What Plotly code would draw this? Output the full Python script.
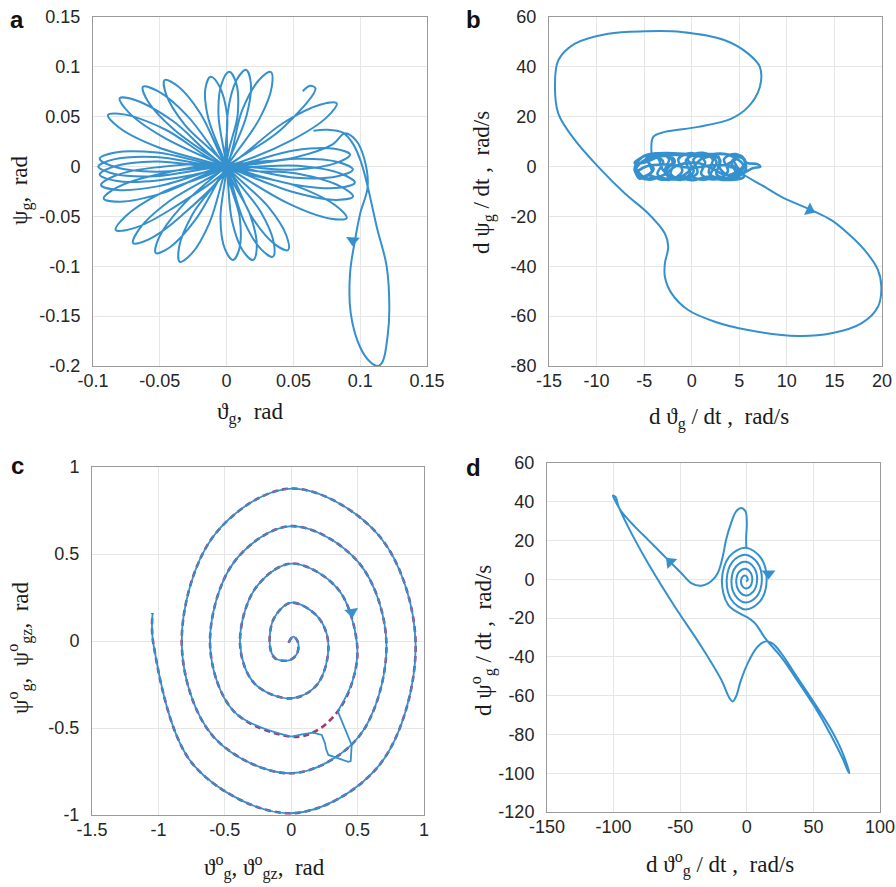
import plotly.graph_objects as go

W, H = 896, 887
BLUE = "#3590CE"
RED = "#A5356A"

# ---------------- panel a : psi_g vs theta_g ----------------
A_PATH = [
    (0.057, 0.0755), (0.0625, 0.081), (0.0665, 0.0785), (0.0406, 0.037), (0, 0),
    (-0.0348, -0.0416), (-0.0508, -0.0717), (-0.053, -0.0867), (-0.0424, -0.0809), (-0.0236, -0.0538), (0, 0),
    (0.0248, 0.0483), (0.0339, 0.0806), (0.033, 0.095), (0.0241, 0.0866), (0.0116, 0.0563), (0, 0),
    (-0.0257, -0.0483), (-0.0356, -0.0809), (-0.035, -0.0955), (-0.026, -0.0871), (-0.0129, -0.0567), (0, 0),
    (0.015, 0.0515), (0.0181, 0.084), (0.0145, 0.097), (0.0075, 0.0868), (0.001, 0.0553), (0, 0),
    (-0.0046, -0.052), (-0.0012, -0.0829), (0.0048, -0.0937), (0.0096, -0.0821), (0.0098, -0.051), (0, 0),
    (0.0083, 0.0521), (0.0072, 0.0835), (0.002, 0.095), (-0.0036, 0.0837), (-0.0061, 0.0525), (0, 0),
    (0.004, -0.0541), (0.0122, -0.0844), (0.0198, -0.0937), (0.0226, -0.0806), (0.0178, -0.0489), (0, 0),
    (0.0004, 0.0511), (-0.0053, 0.0804), (-0.012, 0.090), (-0.0159, 0.078), (-0.0136, 0.0479), (0, 0),
    (0.0127, -0.054), (0.0257, -0.0828), (0.0347, -0.0904), (0.0353, -0.0764), (0.0255, -0.0454), (0, 0),
    (-0.0196, 0.0533), (-0.0364, 0.0806), (-0.0464, 0.0868), (-0.0452, 0.0722), (-0.0314, 0.0421), (0, 0),
    (0.0195, -0.0518), (0.0362, -0.078), (0.046, -0.0837), (0.0448, -0.0694), (0.0311, -0.0402), (0, 0),
    (-0.0294, 0.0509), (-0.0514, 0.0756), (-0.0626, 0.080), (-0.0588, 0.0652), (-0.0394, 0.0371), (0, 0),
    (0.0465, -0.0372), (0.0769, -0.052), (0.0899, -0.0516), (0.0813, -0.0388), (0.0523, -0.0196), (0, 0),
    (-0.0402, 0.0457), (-0.0675, 0.0663), (-0.080, 0.0685), (-0.0733, 0.0543), (-0.0478, 0.0297), (0, 0),
    (0.0504, -0.0258), (0.082, -0.0334), (0.0946, -0.030), (0.0844, -0.0194), (0.0536, -0.0072), (0, 0),
    (-0.0459, 0.0372), (-0.0759, 0.0521), (-0.0888, 0.0517), (-0.0803, 0.0389), (-0.0517, 0.0196), (0, 0),
    (0.052, -0.0184), (0.0839, -0.0213), (0.096, -0.016), (0.0851, -0.0069), (0.0536, 0.0008), (0, 0),
    (-0.0518, 0.014), (-0.0832, 0.0142), (-0.095, 0.008), (-0.084, -0.0002), (-0.0528, -0.0052), (0, 0),
    (0.0518, -0.0113), (0.0831, -0.0098), (0.0945, -0.003), (0.0833, 0.0046), (0.0522, 0.0079), (0, 0),
    (-0.0528, 0.0096), (-0.0845, 0.0072), (-0.096, 0.0), (-0.0845, -0.0072), (-0.0528, -0.0096), (0, 0),
    (0.0514, -0.003), (0.0818, 0.0034), (0.0924, 0.012), (0.0808, 0.0178), (0.0502, 0.0162), (0, 0),
    (-0.0528, 0.0052), (-0.084, 0.0002), (-0.095, -0.008), (-0.0832, -0.0142), (-0.0518, -0.014), (0, 0),
    (0.0488, 0.0266), (0.0751, 0.0496), (0.0824, 0.0634), (0.0699, 0.062), (0.0418, 0.0432), (0, 0),
    (-0.0492, -0.0267), (-0.0756, -0.0498), (-0.083, -0.0636), (-0.0704, -0.0622), (-0.0422, -0.0433), (0, 0),
    (-0.0527, -0.0008), (-0.0835, -0.0092), (-0.094, -0.0185), (-0.0819, -0.0234), (-0.0507, -0.0196), (0, 0),
    (-0.043, -0.0348), (-0.065, -0.062), (-0.070, -0.0767), (-0.0582, -0.073), (-0.034, -0.0496), (0, 0),
    (-0.0524, -0.0083), (-0.0823, -0.0212), (-0.092, -0.032), (-0.0797, -0.0352), (-0.0488, -0.0269), (0, 0),
    (0.0506, 0.009), (0.0794, 0.0223), (0.0886, 0.0333),
    (0.097, 0.026), (0.103, 0.008), (0.1056, -0.02), (0.1, -0.047), (0.096, -0.0746),
    (0.0924, -0.107), (0.0929, -0.147), (0.0998, -0.1807), (0.1075, -0.196),
    (0.1135, -0.2), (0.117, -0.195), (0.1205, -0.17), (0.1218, -0.144),
    (0.1198, -0.1), (0.1123, -0.06), (0.1056, -0.02), (0.101, 0.003),
    (0.095, 0.022), (0.087, 0.034), (0.075, 0.037), (0.065, 0.036),
]
A_ARROWS = [(0.0945, -0.074, 183)]
A_XTICKS = [-0.1, -0.05, 0, 0.05, 0.1, 0.15]
A_XTEXT = ["-0.1", "-0.05", "0", "0.05", "0.1", "0.15"]
A_YTICKS = [-0.2, -0.15, -0.1, -0.05, 0, 0.05, 0.1, 0.15]
A_YTEXT = ["-0.2", "-0.15", "-0.1", "-0.05", "0", "0.05", "0.1", "0.15"]

# ---------------- panel b : d psi_g/dt vs d theta_g/dt ----------------
B_BLOB = [
    (-5.9, 0.5), (-5.2, 3.8), (-3.8, 5.2), (-2.4, 3.2), (-2.8, -2.0), (-1.6, -5.0),
    (-0.2, -3.0), (-0.6, 2.5), (0.8, 5.2), (2.2, 3.0), (1.8, -2.5), (3.2, -5.0),
    (4.6, -2.8), (4.2, 2.0), (5.2, 4.3), (5.8, 1.5), (6.9, 1.0), (7.2, 0.0),
    (6.4, -0.7), (5.5, -2.5), (4.0, -4.8), (2.6, -3.0), (3.0, 2.5), (1.6, 5.0),
    (0.2, 3.0), (0.6, -2.5), (-0.8, -5.2), (-2.2, -3.0), (-1.8, 2.5), (-3.2, 5.0),
    (-4.6, 3.0), (-4.2, -2.0), (-5.4, -4.0), (-6.0, -1.5), (-5.6, 2.5), (-4.4, 4.8),
    (-3.0, 2.0), (-3.6, -3.0), (-2.4, -5.4), (-1.0, -2.0), (-1.4, 3.0), (0.0, 5.4),
    (1.4, 2.0), (1.0, -3.0), (2.4, -5.2), (3.8, -2.0), (3.4, 3.0), (4.6, 5.0),
    (5.6, 2.5), (5.2, -2.0), (4.2, -5.0), (2.8, -4.0), (1.2, -5.3), (-0.4, -4.0),
    (-2.0, -5.2), (-3.8, -4.2), (-5.0, -5.0), (-5.8, -2.8), (-4.8, 0.0), (-2.5, 0.8),
    (0.0, -0.5), (2.5, 0.6), (4.8, -0.4), (5.5, -4.0), (3.6, -5.4), (1.8, -4.0),
    (0.0, -5.5), (-1.8, -4.2), (-3.2, -5.3), (-4.5, -3.5), (-5.5, -4.8), (-6.0, -0.5),
    (-5.0, -4.2), (-4.0, -1.0), (-4.8, 3.2), (-3.2, 5.3), (-2.0, 2.0), (-2.8, -2.5),
    (-1.2, -5.4), (0.2, -2.0), (-0.4, 3.5), (1.2, 5.5), (2.6, 2.0), (2.0, -3.5),
    (3.4, -5.3), (4.9, -2.0), (4.4, 3.0), (5.3, 3.5), (5.7, -1.0), (4.5, -4.5),
    (3.0, -1.0), (2.8, 4.0), (1.0, 3.0), (0.0, -1.0), (-1.5, -4.5), (-3.0, -1.5),
    (-3.6, 3.5), (-5.2, 2.0), (-5.9, -2.0), (-4.6, -5.2), (-3.0, -3.5), (-1.5, 0.5),
    (0.5, 1.5), (2.0, -0.5), (3.8, -3.5), (5.4, 0.5), (4.0, 4.5), (2.0, 5.0),
    (-0.5, 5.0), (-2.6, 5.4), (-4.8, 4.5), (-6.0, 1.5),
    (-5.0, 1.5), (-3.4, 4.0), (-1.2, 4.8), (1.0, 4.2), (3.0, 5.2), (4.8, 3.5),
    (3.6, 0.5), (4.0, -0.3),
]
B_LOOP = [
    (4.0, -0.3),
    (4.53, -0.78), (5.23, -2.79), (7.68, -8.13), (9.43, -12.14), (12.58, -17.48),
    (14.68, -21.48), (16.43, -26.83), (18.18, -33.51), (19.58, -41.52), (19.93, -48.2),
    (19.58, -56.22), (17.83, -62.9), (14.68, -66.9), (11.18, -67.97), (5.93, -65.57),
    (2.43, -62.23), (-0.37, -57.55), (-2.12, -50.87), (-2.82, -44.19), (-2.82, -38.85),
    (-2.47, -32.17), (-2.82, -26.83), (-4.57, -18.81), (-7.02, -10.8), (-9.82, -0.11),
    (-12.27, 10.57), (-14.02, 21.26), (-14.37, 31.95), (-14.02, 42.63), (-12.27, 49.31),
    (-8.77, 53.32), (-4.92, 54.26), (-1.07, 53.99), (3.48, 50.65), (5.93, 45.31),
    (7.16, 39.96), (7.16, 31.95), (5.93, 23.93), (4.18, 19.26), (0.68, 15.92),
    (-2.82, 13.91), (-4.04, 11.91), (-4.22, 5.23),
]
B_ARROWS = [(12.4, -17.4, 115)]
B_XTICKS = [-15, -10, -5, 0, 5, 10, 15, 20]
B_YTICKS = [-80, -60, -40, -20, 0, 20, 40, 60]

# ---------------- panel c : spiral (reference dashed, actual solid) ----------------
C_SPIRAL = [
    (-0.02, -0.01), (0.015, 0.025), (0.05, -0.005), (0.045, -0.07), (-0.01, -0.11),
    (-0.12, -0.1), (-0.16, -0.03), (-0.13, 0.13), (0.0, 0.22),
    (0.198, 0.141), (0.28, -0.02), (0.198, -0.248), (0.0, -0.33),
    (-0.272, -0.248), (-0.385, -0.02), (-0.272, 0.30), (0.0, 0.445),
    (0.351, 0.30), (0.496, -0.02), (0.462, -0.23), (0.351, -0.404), (0.18, -0.52),
    (0.0, -0.55),
    (-0.432, -0.404), (-0.611, -0.02), (-0.432, 0.452), (0.0, 0.66),
    (0.507, 0.452), (0.717, -0.02), (0.507, -0.552), (0.0, -0.76),
    (-0.583, -0.552), (-0.824, -0.02), (-0.583, 0.605), (0.0, 0.876),
    (0.662, 0.605), (0.937, -0.02), (0.662, -0.715), (0.0, -0.99),
    (-0.733, -0.715), (-1.037, -0.02), (-1.044, 0.16),
]
C_DETOUR_FROM = (0.351, -0.404)
C_DETOUR_TO = (0.0, -0.55)
C_DETOUR = [
    (0.351, -0.404), (0.40, -0.50), (0.4556, -0.598), (0.448, -0.69), (0.43, -0.694),
    (0.355, -0.674), (0.28, -0.655), (0.262, -0.62), (0.255, -0.588), (0.23, -0.54),
    (0.166, -0.527), (0.091, -0.535), (0.0, -0.55),
]
C_ARROWS = [(0.455, 0.167, 172)]
C_XTICKS = [-1.5, -1, -0.5, 0, 0.5, 1]
C_YTICKS = [-1, -0.5, 0, 0.5, 1]

# ---------------- panel d ----------------
D_PATH = [
    (-0.3, 16.5), (-0.5, 21.3), (0, 29.1), (-1, 35.1), (-4.25, 36.8), (-8, 35.1),
    (-11.75, 29.1), (-15.5, 20.5), (-18, 11.9), (-21.75, 3.3), (-26.75, -1.0),
    (-34.25, -3.3), (-41.75, -1.9), (-49.25, 3.3), (-56.75, 8.4), (-64.25, 13.6),
    (-74.25, 20.5), (-84.25, 27.3), (-94.25, 35.1), (-99.25, 41.1), (-100.5, 43.2),
    (-98.5, 42.5), (-96.5, 38.0), (-89.25, 27.3), (-74.25, 8.4), (-54.25, -13.9),
    (-34.25, -34.5), (-19.25, -51.7), (-13, -61.2), (-10.5, -63.0), (-8, -60.3),
    (-4.25, -51.7), (2, -41.4), (8.25, -34.6), (14.5, -32), (19.5, -33.2),
    (25.75, -38), (35.75, -48.3), (50.75, -63.8), (63.25, -77.5), (72, -89.6),
    (77, -99.9), (76, -99), (72, -92.5), (63.25, -80.5), (50.75, -65.5),
    (35.75, -50), (25.75, -40.0), (14.5, -31.0), (6, -22.5), (0.5, -19.6),
    (-1, -19.1), (-13.83, -13.33), (-18.7, -0.5), (-13.2, 11.7), (-1, 16.3),
    (10.56, 11.06), (14.9, -0.5), (9.92, -11.42), (-1, -15.5), (-11.29, -10.79),
    (-15.1, -0.5), (-10.65, 9.15), (-1, 12.7), (8.01, 8.51), (11.3, -0.5),
    (7.38, -8.88), (-1, -11.9), (-8.74, -8.24), (-11.5, -0.5), (-8.11, 6.61),
    (-1, 9.1), (5.47, 5.97), (7.7, -0.5), (4.83, -6.33), (-1, -8.3),
    (-6.2, -5.7), (-7.9, -0.5), (-5.56, 4.06), (-1, 5.5), (2.92, 3.42),
    (4.1, -0.5), (2.29, -3.79), (-1, -4.7), (-3.65, -3.15), (-4.3, -0.5),
    (-3.01, 1.51), (-1, 1.9), (0.38, 0.88), (0.5, -0.5), (-0.6, -1.0),
]
D_ARROWS = [(-57.5, 9.0, -45), (16.3, 3.0, 180)]
D_XTICKS = [-150, -100, -50, 0, 50, 100]
D_YTICKS = [-120, -100, -80, -60, -40, -20, 0, 20, 40, 60]

# ---------------- layout geometry (pixels) ----------------
BOXES = {  # left, right, top, bottom
    "a": (93, 427, 17, 366),
    "b": (549, 882, 17, 366),
    "c": (92, 424, 467, 815),
    "d": (547, 880, 463, 812),
}


def xs(p):
    return [q[0] for q in p]


def ys(p):
    return [q[1] for q in p]


def fmt(v):
    return "%g" % v


fig = go.Figure()


def line(path, ax, color=BLUE, width=2.0, dash=None, shape="spline"):
    ln = dict(color=color, width=width, shape=shape, dash=dash)
    if shape == "spline":
        ln["smoothing"] = 1.0
    fig.add_trace(go.Scatter(
        x=xs(path), y=ys(path), mode="lines", line=ln,
        xaxis="x" + ax, yaxis="y" + ax, showlegend=False, hoverinfo="skip"))


def arrows(arr, ax):
    fig.add_trace(go.Scatter(
        x=[a[0] for a in arr], y=[a[1] for a in arr], mode="markers",
        marker=dict(symbol="triangle-up", size=12, color=BLUE,
                    angle=[a[2] for a in arr], line=dict(width=0)),
        xaxis="x" + ax, yaxis="y" + ax, showlegend=False, hoverinfo="skip"))


# panel a
line(A_PATH, "")
arrows(A_ARROWS, "")
# panel b
line(B_BLOB, "2", width=2.6)
line(B_LOOP, "2")
arrows(B_ARROWS, "2")
# panel c
k = C_SPIRAL.index(C_DETOUR_FROM)
k2 = C_SPIRAL.index(C_DETOUR_TO)
line(C_SPIRAL, "3", color=RED, width=2.6, dash="6px,4px")
line(C_SPIRAL[:k + 1], "3", color=BLUE, width=1.8)
line(C_DETOUR, "3", color=BLUE, width=1.8, shape="linear")
line(C_SPIRAL[k2:], "3", color=BLUE, width=1.8)
arrows(C_ARROWS, "3")
# panel d
line(D_PATH, "4")
arrows(D_ARROWS, "4")

TICKFONT = dict(family="Liberation Sans, Arial, sans-serif", size=18, color="#262626")


def axes(box, xt, yt, xr, yr, xtext=None, ytext=None):
    l, r, t, b = box
    common = dict(showgrid=True, gridcolor="#e6e6e6", gridwidth=1,
                  showline=True, mirror=True, linecolor="#9a9a9a", linewidth=1,
                  zeroline=False, tickcolor="rgba(0,0,0,0)",
                  tickfont=TICKFONT, fixedrange=True, automargin=False)
    xa = dict(domain=[l / W, r / W], range=xr, tickvals=xt,
              ticktext=xtext or [fmt(v) for v in xt], ticks="",
              ticklabelstandoff=-2, **common)
    ya = dict(domain=[1 - b / H, 1 - t / H], range=yr, tickvals=yt,
              ticktext=ytext or [fmt(v) for v in yt], ticks="outside",
              ticklen=8, **common)
    return xa, ya


eps = 1e-9
xa1, ya1 = axes(BOXES["a"], A_XTICKS, A_YTICKS, [-0.1 - eps, 0.15 + eps],
                [-0.2 - eps, 0.15 + eps], A_XTEXT, A_YTEXT)
xa2, ya2 = axes(BOXES["b"], B_XTICKS, B_YTICKS, [-15 - eps, 20 + eps], [-80 - eps, 60 + eps])
xa3, ya3 = axes(BOXES["c"], C_XTICKS, C_YTICKS, [-1.5 - eps, 1 + eps], [-1 - eps, 1 + eps])
xa4, ya4 = axes(BOXES["d"], D_XTICKS, D_YTICKS, [-150 - eps, 100 + eps], [-120 - eps, 60 + eps])
xa1["anchor"] = "y"; ya1["anchor"] = "x"
xa2["anchor"] = "y2"; ya2["anchor"] = "x2"
xa3["anchor"] = "y3"; ya3["anchor"] = "x3"
xa4["anchor"] = "y4"; ya4["anchor"] = "x4"

SERIF = "Liberation Serif, Times New Roman, serif"
TITLES = [
    # text, px, py, angle
    ("ϑ<sub>g</sub>,  rad", 250, 413, 0),
    ("ψ<sub>g</sub>,  rad", 21, 190, -90),
    ("d ϑ<sub>g</sub> / dt ,  rad/s", 719, 419, 0),
    ("d ψ<sub>g</sub> / dt ,  rad/s", 483, 183, -90),
    ("ϑ<sup>o</sup><sub>g</sub>, ϑ<sup>o</sup><sub>gz</sub>,  rad", 264, 867, 0),
    ("ψ<sup>o</sup><sub>g</sub>,  ψ<sup>o</sup><sub>gz</sub>,  rad", 20, 648, -90),
    ("d ϑ<sup>o</sup><sub>g</sub> / dt ,  rad/s", 720, 864, 0),
    ("d ψ<sup>o</sup><sub>g</sub> / dt ,  rad/s", 483, 641, -90),
]
LETTERS = [("a", 17, 20), ("b", 474, 19), ("c", 17, 465), ("d", 474, 467)]

ann = []
for txt, px, py, ang in TITLES:
    ann.append(dict(text=txt, x=px / W, y=1 - py / H, xref="paper", yref="paper",
                    xanchor="center", yanchor="middle", showarrow=False,
                    textangle=ang, font=dict(family=SERIF, size=23, color="#1a1a1a")))
for txt, px, py in LETTERS:
    ann.append(dict(text="<b>%s</b>" % txt, x=px / W, y=1 - py / H, xref="paper",
                    yref="paper", xanchor="center", yanchor="middle", showarrow=False,
                    font=dict(family="Liberation Sans, Arial, sans-serif", size=24,
                              color="#111111")))

fig.update_layout(
    width=W, height=H, autosize=False,
    margin=dict(l=0, r=0, t=0, b=0),
    paper_bgcolor="white", plot_bgcolor="white",
    xaxis=xa1, yaxis=ya1, xaxis2=xa2, yaxis2=ya2,
    xaxis3=xa3, yaxis3=ya3, xaxis4=xa4, yaxis4=ya4,
    annotations=ann, showlegend=False,
)

fig.write_html("out.html")
